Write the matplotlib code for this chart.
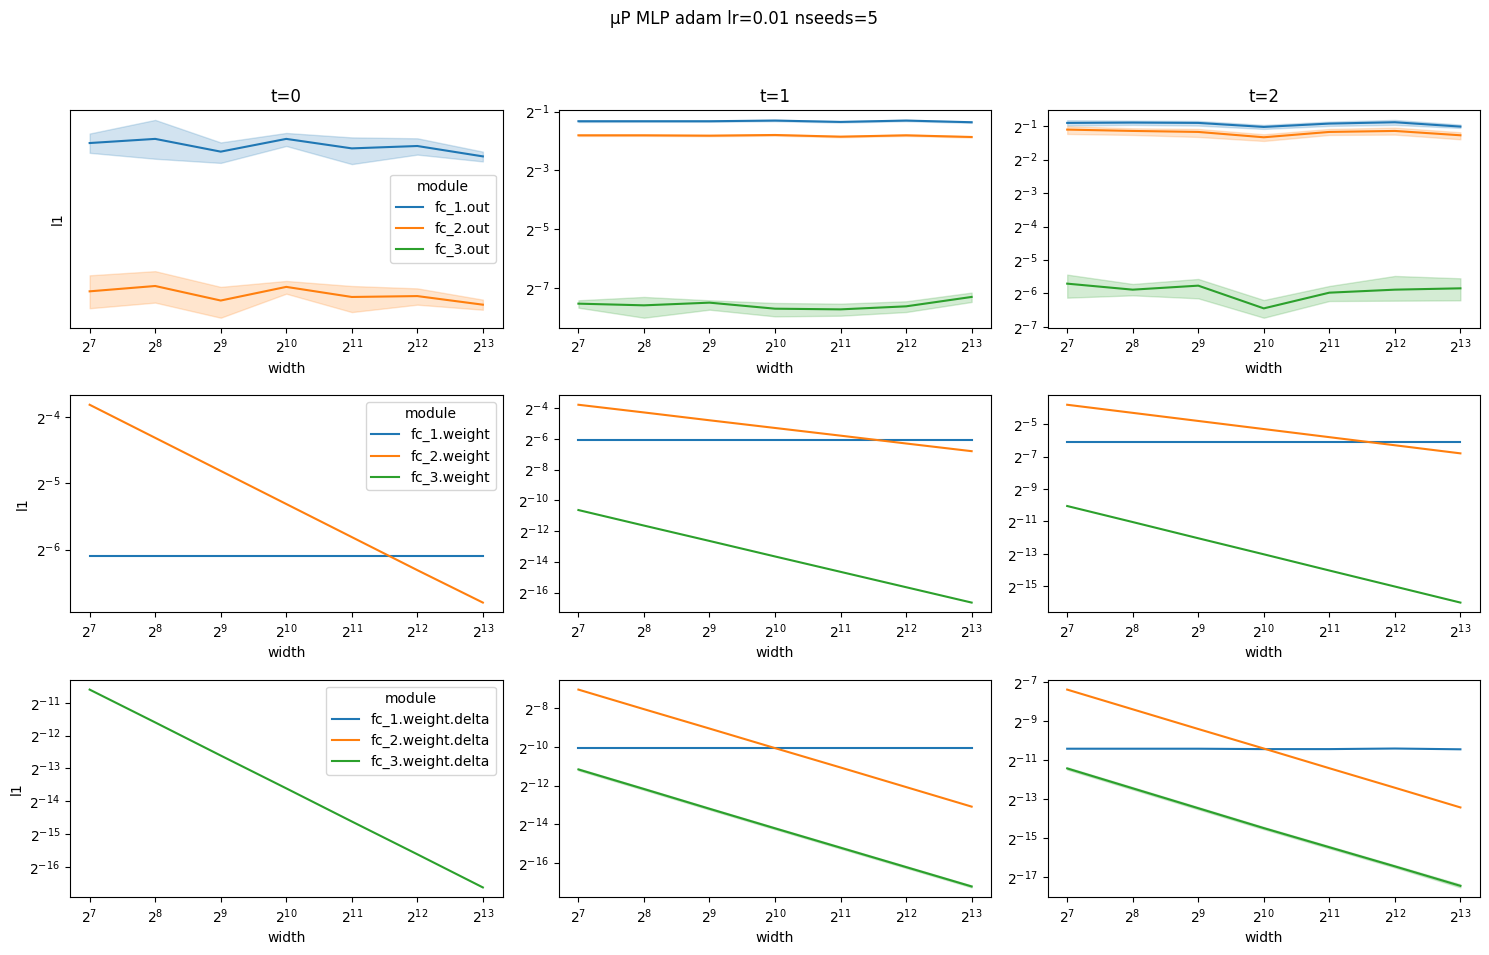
import numpy as np
import matplotlib
matplotlib.use("Agg")
import matplotlib.pyplot as plt

# widths (x axis)
widths = [128, 256, 512, 1024, 2048, 4096, 8192]
colors = {'fc_1': '#1f77b4', 'fc_2': '#ff7f0e', 'fc_3': '#2ca02c'}

# all values below are log2(l1)
# --- outputs ---
out_t0_fc1 = [-1.350, -1.336, -1.379, -1.336, -1.368, -1.360, -1.395]
out_t0_fc1_lo = [-1.383, -1.403, -1.417, -1.360, -1.421, -1.389, -1.412]
out_t0_fc1_hi = [-1.318, -1.272, -1.348, -1.316, -1.331, -1.334, -1.379]
out_t0_fc2 = [-1.850, -1.832, -1.881, -1.835, -1.869, -1.866, -1.895]
out_t0_fc2_lo = [-1.907, -1.888, -1.939, -1.858, -1.920, -1.895, -1.912]
out_t0_fc2_hi = [-1.796, -1.782, -1.835, -1.815, -1.832, -1.840, -1.878]

out_t1_fc1 = [-1.330, -1.330, -1.330, -1.307, -1.353, -1.307, -1.364]
out_t1_fc1_lo = [-1.355, -1.350, -1.350, -1.330, -1.375, -1.330, -1.385]
out_t1_fc1_hi = [-1.305, -1.310, -1.310, -1.285, -1.330, -1.285, -1.345]
out_t1_fc2 = [-1.808, -1.808, -1.820, -1.797, -1.854, -1.808, -1.865]
out_t1_fc2_lo = [-1.830, -1.828, -1.840, -1.820, -1.875, -1.830, -1.885]
out_t1_fc2_hi = [-1.785, -1.788, -1.800, -1.775, -1.832, -1.785, -1.845]
out_t1_fc3 = [-7.524, -7.581, -7.490, -7.695, -7.718, -7.615, -7.296]
out_t1_fc3_lo = [-7.661, -8.002, -7.729, -7.956, -7.934, -7.809, -7.467]
out_t1_fc3_hi = [-7.410, -7.296, -7.410, -7.501, -7.524, -7.444, -7.148]

out_t2_fc1 = [-0.90, -0.89, -0.90, -1.02, -0.92, -0.88, -1.01]
out_t2_fc1_lo = [-0.98, -0.96, -0.98, -1.08, -0.99, -0.96, -1.05]
out_t2_fc1_hi = [-0.82, -0.83, -0.84, -0.96, -0.86, -0.81, -0.95]
out_t2_fc2 = [-1.10, -1.14, -1.17, -1.33, -1.17, -1.14, -1.27]
out_t2_fc2_lo = [-1.23, -1.26, -1.32, -1.44, -1.26, -1.25, -1.39]
out_t2_fc2_hi = [-1.00, -1.06, -1.08, -1.24, -1.08, -1.04, -1.18]
out_t2_fc3 = [-5.71, -5.89, -5.77, -6.45, -5.98, -5.89, -5.85]
out_t2_fc3_lo = [-6.13, -6.06, -6.15, -6.73, -6.23, -6.22, -6.21]
out_t2_fc3_hi = [-5.44, -5.72, -5.57, -6.20, -5.78, -5.48, -5.55]

# --- weights ---
w_t0_fc1 = [-6.10, -6.10, -6.10, -6.10, -6.10, -6.10, -6.10]
w_t0_fc2 = [-3.81, -4.31, -4.81, -5.31, -5.81, -6.31, -6.80]
w_t1_fc1 = [-6.09, -6.09, -6.09, -6.09, -6.09, -6.09, -6.09]
w_t1_fc2 = [-3.78, -4.28, -4.79, -5.29, -5.79, -6.30, -6.80]
w_t1_fc3 = [-10.63, -11.64, -12.64, -13.65, -14.65, -15.65, -16.65]
w_t2_fc1 = [-6.10, -6.10, -6.10, -6.10, -6.10, -6.10, -6.10]
w_t2_fc2 = [-3.80, -4.30, -4.80, -5.30, -5.80, -6.30, -6.80]
w_t2_fc3 = [-10.05, -11.04, -12.04, -13.03, -14.03, -15.02, -16.01]

# --- weight deltas ---
d_t0_fc3 = [-10.60, -11.60, -12.61, -13.61, -14.62, -15.62, -16.63]
d_t1_fc1 = [-10.07, -10.07, -10.07, -10.07, -10.07, -10.07, -10.07]
d_t1_fc2 = [-7.05, -8.06, -9.06, -10.07, -11.07, -12.08, -13.09]
d_t1_fc3 = [-11.17, -12.18, -13.20, -14.21, -15.21, -16.21, -17.21]
d_t1_fc3_lo = [-11.22, -12.23, -13.25, -14.26, -15.26, -16.26, -17.26]
d_t1_fc3_hi = [-11.12, -12.13, -13.15, -14.16, -15.16, -16.16, -17.16]
d_t2_fc1 = [-10.42, -10.42, -10.42, -10.44, -10.44, -10.41, -10.45]
d_t2_fc2 = [-7.39, -8.40, -9.41, -10.41, -11.42, -12.42, -13.43]
d_t2_fc3 = [-11.43, -12.45, -13.47, -14.49, -15.47, -16.45, -17.45]
d_t2_fc3_lo = [-11.49, -12.51, -13.53, -14.55, -15.53, -16.51, -17.53]
d_t2_fc3_hi = [-11.37, -12.39, -13.41, -14.43, -15.41, -16.39, -17.37]


def p2(v):
    return 2.0 ** np.array(v)


def draw(ax, name, mean, lo=None, hi=None):
    c = colors[name.split('.')[0]]
    if mean is None:
        ax.plot([], [], color=c, label=name)
        return
    if lo is not None:
        ax.fill_between(widths, p2(lo), p2(hi), color=c, alpha=0.2)
    ax.plot(widths, p2(mean), color=c, lw=1.5, label=name)


fig, axs = plt.subplots(3, 3, figsize=(14.89, 9.55), dpi=100)
fig.subplots_adjust(left=0.047, right=0.994, top=0.8848, bottom=0.0604,
                    wspace=0.13, hspace=0.309)

# row 0: outputs
draw(axs[0, 0], 'fc_1.out', out_t0_fc1, out_t0_fc1_lo, out_t0_fc1_hi)
draw(axs[0, 0], 'fc_2.out', out_t0_fc2, out_t0_fc2_lo, out_t0_fc2_hi)
draw(axs[0, 0], 'fc_3.out', None)
draw(axs[0, 1], 'fc_1.out', out_t1_fc1, out_t1_fc1_lo, out_t1_fc1_hi)
draw(axs[0, 1], 'fc_2.out', out_t1_fc2, out_t1_fc2_lo, out_t1_fc2_hi)
draw(axs[0, 1], 'fc_3.out', out_t1_fc3, out_t1_fc3_lo, out_t1_fc3_hi)
draw(axs[0, 2], 'fc_1.out', out_t2_fc1, out_t2_fc1_lo, out_t2_fc1_hi)
draw(axs[0, 2], 'fc_2.out', out_t2_fc2, out_t2_fc2_lo, out_t2_fc2_hi)
draw(axs[0, 2], 'fc_3.out', out_t2_fc3, out_t2_fc3_lo, out_t2_fc3_hi)

# row 1: weights
draw(axs[1, 0], 'fc_1.weight', w_t0_fc1)
draw(axs[1, 0], 'fc_2.weight', w_t0_fc2)
draw(axs[1, 0], 'fc_3.weight', None)
draw(axs[1, 1], 'fc_1.weight', w_t1_fc1)
draw(axs[1, 1], 'fc_2.weight', w_t1_fc2)
draw(axs[1, 1], 'fc_3.weight', w_t1_fc3)
draw(axs[1, 2], 'fc_1.weight', w_t2_fc1)
draw(axs[1, 2], 'fc_2.weight', w_t2_fc2)
draw(axs[1, 2], 'fc_3.weight', w_t2_fc3)

# row 2: weight deltas
draw(axs[2, 0], 'fc_1.weight.delta', None)
draw(axs[2, 0], 'fc_2.weight.delta', None)
draw(axs[2, 0], 'fc_3.weight.delta', d_t0_fc3)
draw(axs[2, 1], 'fc_1.weight.delta', d_t1_fc1)
draw(axs[2, 1], 'fc_2.weight.delta', d_t1_fc2)
draw(axs[2, 1], 'fc_3.weight.delta', d_t1_fc3, d_t1_fc3_lo, d_t1_fc3_hi)
draw(axs[2, 2], 'fc_1.weight.delta', d_t2_fc1)
draw(axs[2, 2], 'fc_2.weight.delta', d_t2_fc2)
draw(axs[2, 2], 'fc_3.weight.delta', d_t2_fc3, d_t2_fc3_lo, d_t2_fc3_hi)

for i in range(3):
    for j in range(3):
        ax = axs[i, j]
        ax.set_xscale('log', base=2)
        ax.set_yscale('log', base=2)
        ax.set_xlabel('width')
        if j == 0:
            ax.set_ylabel('l1')
    axs[0, i].set_title(f't={i}')

axs[0, 0].legend(title='module', loc='center right')
axs[1, 0].legend(title='module', loc='upper right')
axs[2, 0].legend(title='module', loc='upper right')

fig.suptitle('μP MLP adam lr=0.01 nseeds=5', y=0.99)

plt.savefig('out.png')
